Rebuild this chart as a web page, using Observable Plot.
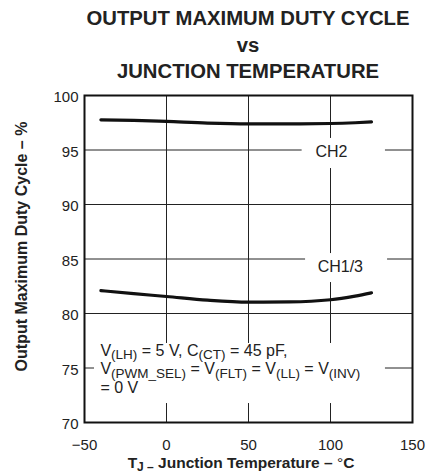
<!DOCTYPE html>
<html><head><meta charset="utf-8">
<script src="https://cdn.jsdelivr.net/npm/d3@7"></script>
<script src="https://cdn.jsdelivr.net/npm/@observablehq/plot@0.6"></script>
<style>
body{margin:0;background:#fff;font-family:"Liberation Sans",Arial,sans-serif;}
#title{width:328px;margin-left:84px;height:85px;box-sizing:border-box;padding-top:5px;text-align:center;font-weight:bold;font-size:20.3px;line-height:26.5px;color:#222;}
#chart svg{display:block;}
</style></head><body>
<div id="title">OUTPUT MAXIMUM DUTY CYCLE<br>vs<br>JUNCTION TEMPERATURE</div>
<div id="chart"></div>
<script>
// Data
const temps = [-40, -20, 0, 25, 50, 75, 100, 115, 125];
const ch2   = [97.77, 97.72, 97.62, 97.47, 97.40, 97.40, 97.43, 97.50, 97.58];
const ch13  = [82.10, 81.82, 81.56, 81.22, 81.04, 81.06, 81.26, 81.60, 81.90];
const seriesNames = ["CH2", "CH1/3"];
const xTicks = [-50, 0, 50, 100, 150];
const yTicks = [70, 75, 80, 85, 90, 95, 100];
const seriesLabels = [
  {text: "CH2", x: 100.6, y: 94.82},
  {text: "CH1/3", x: 106, y: 84.27}
];
// white boxes behind labels (gaps in grid), in data coordinates
const labelBoxes = [
  {x1: 82.7, x2: 133.5, y1: 93.30, y2: 96.06},
  {x1: 84.8, x2: 134.8, y1: 82.84, y2: 85.50},
  {x1: -43.9, x2: 133.5, y1: 71.74, y2: 77.25}
];
const annotationAnchor = {x: -40, y: 76.05};
const annotationLines = [
  [["V"], ["(LH)", 1], [" = 5 V, C"], ["(CT)", 1], [" = 45 pF,"]],
  [["V"], ["(PWM_SEL)", 1], [" = V"], ["(FLT)", 1], [" = V"], ["(LL)", 1], [" = V"], ["(INV)", 1]],
  [["= 0 V"]]
];
const yLabel = "Output Maximum Duty Cycle – %";

const rows = [
  ...temps.map((t, i) => ({t, v: ch2[i], series: seriesNames[0]})),
  ...temps.map((t, i) => ({t, v: ch13[i], series: seriesNames[1]}))
];

const W = 435, H = 389, mL = 84, mR = 23, mT = 10, mB = 52;
const plot = Plot.plot({
  width: W, height: H, marginTop: mT, marginBottom: mB, marginLeft: mL, marginRight: mR,
  style: {fontFamily: "'Liberation Sans', Arial, sans-serif", fontSize: "15px", color: "#222", background: "#fff"},
  x: {domain: [-50, 150]},
  y: {domain: [70, 100]},
  marks: [
    Plot.ruleX(xTicks, {stroke: "#222", strokeWidth: 1}),
    Plot.ruleY(yTicks, {stroke: "#222", strokeWidth: 1}),
    Plot.rect(labelBoxes, {x1: "x1", x2: "x2", y1: "y1", y2: "y2", fill: "white"}),
    Plot.frame({stroke: "#111", strokeWidth: 2}),
    Plot.line(rows, {x: "t", y: "v", z: "series", stroke: "#111", strokeWidth: 3.2, curve: "monotone-x"}),
    Plot.text(seriesLabels, {x: "x", y: "y", text: "text", fontSize: 16, fill: "#222"}),
    Plot.axisX(xTicks, {tickSize: 0, tickPadding: 17, fontSize: 15, label: null}),
    Plot.axisY(yTicks, {tickSize: 0, tickPadding: 6, fontSize: 15, label: null, dy: 2})
  ]
});
document.getElementById("chart").appendChild(plot);

const sx = plot.scale("x").apply, sy = plot.scale("y").apply;
const svg = d3.select(plot);
const ff = "'Liberation Sans', Arial, sans-serif";

// annotation block with subscripts
const ax = sx(annotationAnchor.x), ay = sy(annotationAnchor.y);
annotationLines.forEach((segs, li) => {
  const t = svg.append("text").attr("x", ax).attr("y", ay + li * 18.3)
    .attr("text-anchor", "start")
    .attr("font-family", ff).attr("font-size", 16).attr("fill", "#222");
  let shifted = false;
  segs.forEach(([s, sub]) => {
    const ts = t.append("tspan").text(s);
    if (sub && !shifted) { ts.attr("dy", 3.2); shifted = true; }
    else if (!sub && shifted) { ts.attr("dy", -3.2); shifted = false; }
    ts.attr("font-size", sub ? 13.5 : 16);
  });
});

// x axis label
const xl = svg.append("text").attr("x", (mL + W - mR) / 2 - 7).attr("y", H - 6)
  .attr("text-anchor", "middle").attr("font-family", ff).attr("font-weight", "bold")
  .attr("font-size", 15.5).attr("fill", "#222");
xl.append("tspan").text("T");
xl.append("tspan").attr("dy", 3).attr("font-size", 12).text("J –");
xl.append("tspan").attr("dy", -3).text(" Junction Temperature – ");
xl.append("tspan").attr("font-weight", "normal").text("°");
xl.append("tspan").text("C");

// y axis label
svg.append("text").attr("transform", `translate(27,${(mT + H - mB) / 2 - 12}) rotate(-90)`)
  .attr("text-anchor", "middle").attr("font-family", ff).attr("font-weight", "bold")
  .attr("font-size", 16).attr("fill", "#222").text(yLabel);
</script>
</body></html>
